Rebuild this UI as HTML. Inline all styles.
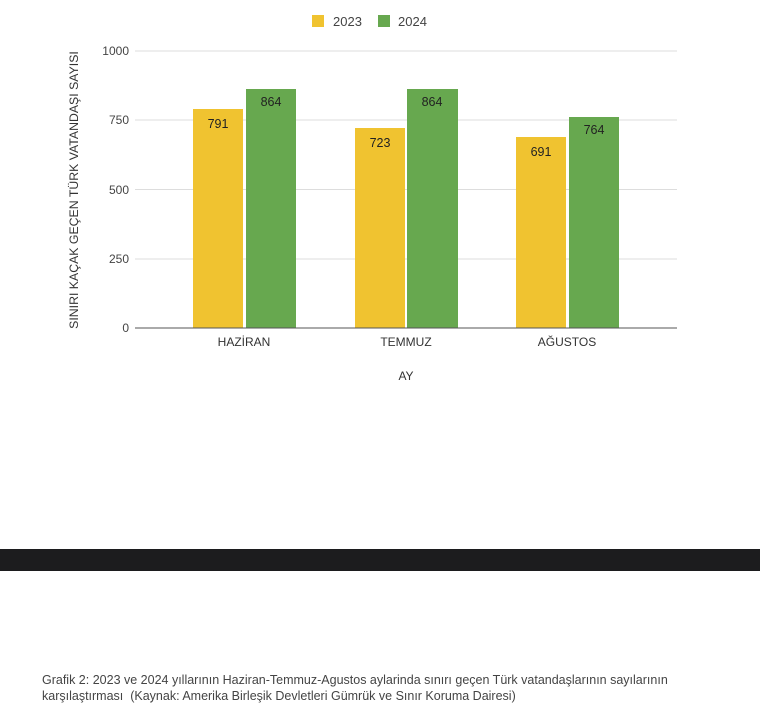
<!DOCTYPE html><html><head><style>body{margin:0;background:#fff;width:760px;height:728px;overflow:hidden;position:relative;font-family:"Liberation Sans",sans-serif}
.cap{position:absolute;left:42px;font-size:12.5px;color:#444;white-space:nowrap;}
</style></head><body>
<svg width="760" height="548" style="position:absolute;left:0;top:0" font-family="Liberation Sans, DejaVu Sans, sans-serif">
<rect x="312" y="15" width="12" height="12" fill="#F0C330"/><text x="333" y="26" font-size="13" fill="#444">2023</text>
<rect x="378" y="15" width="12" height="12" fill="#67A84F"/><text x="398" y="26" font-size="13" fill="#444">2024</text>
<g stroke="#ddd" stroke-width="1">
<line x1="135" x2="677" y1="51" y2="51"/><line x1="135" x2="677" y1="120" y2="120"/><line x1="135" x2="677" y1="189.5" y2="189.5"/><line x1="135" x2="677" y1="259" y2="259"/></g>
<g font-size="12" fill="#444" text-anchor="end"><text x="129" y="55">1000</text><text x="129" y="124">750</text><text x="129" y="194">500</text><text x="129" y="263">250</text><text x="129" y="332">0</text></g>
<g fill="#F0C330"><rect x="193" y="109" width="50" height="219"/><rect x="355" y="128" width="50" height="200"/><rect x="516" y="137" width="50" height="191"/></g>
<g fill="#67A84F"><rect x="246" y="89" width="50" height="239"/><rect x="407" y="89" width="51" height="239"/><rect x="569" y="117" width="50" height="211"/></g>
<line x1="135" x2="677" y1="328" y2="328" stroke="#555"/>
<g font-size="12.5" fill="#222" text-anchor="middle"><text x="218" y="128">791</text><text x="271" y="106">864</text><text x="380" y="147">723</text><text x="432" y="106">864</text><text x="541" y="156">691</text><text x="594" y="134">764</text></g>
<g font-size="12" fill="#333" text-anchor="middle"><text x="244" y="346">HAZİRAN</text><text x="406" y="346">TEMMUZ</text><text x="567" y="346">AĞUSTOS</text><text x="406" y="380">AY</text></g>
<text transform="translate(78,190) rotate(-90)" font-size="12.3" fill="#333" text-anchor="middle">SINIRI KAÇAK GEÇEN TÜRK VATANDAŞI SAYISI</text>
</svg>
<div style="position:absolute;left:0;top:549px;width:760px;height:22px;background:#1c1c1e"></div>
<div class="cap" style="top:673px">Grafik 2: 2023 ve 2024 yıllarının Haziran-Temmuz-Agustos aylarinda sınırı geçen Türk vatandaşlarının sayılarının</div>
<div class="cap" style="top:689px">karşılaştırması&nbsp; (Kaynak: Amerika Birleşik Devletleri Gümrük ve Sınır Koruma Dairesi)</div>
</body></html>
